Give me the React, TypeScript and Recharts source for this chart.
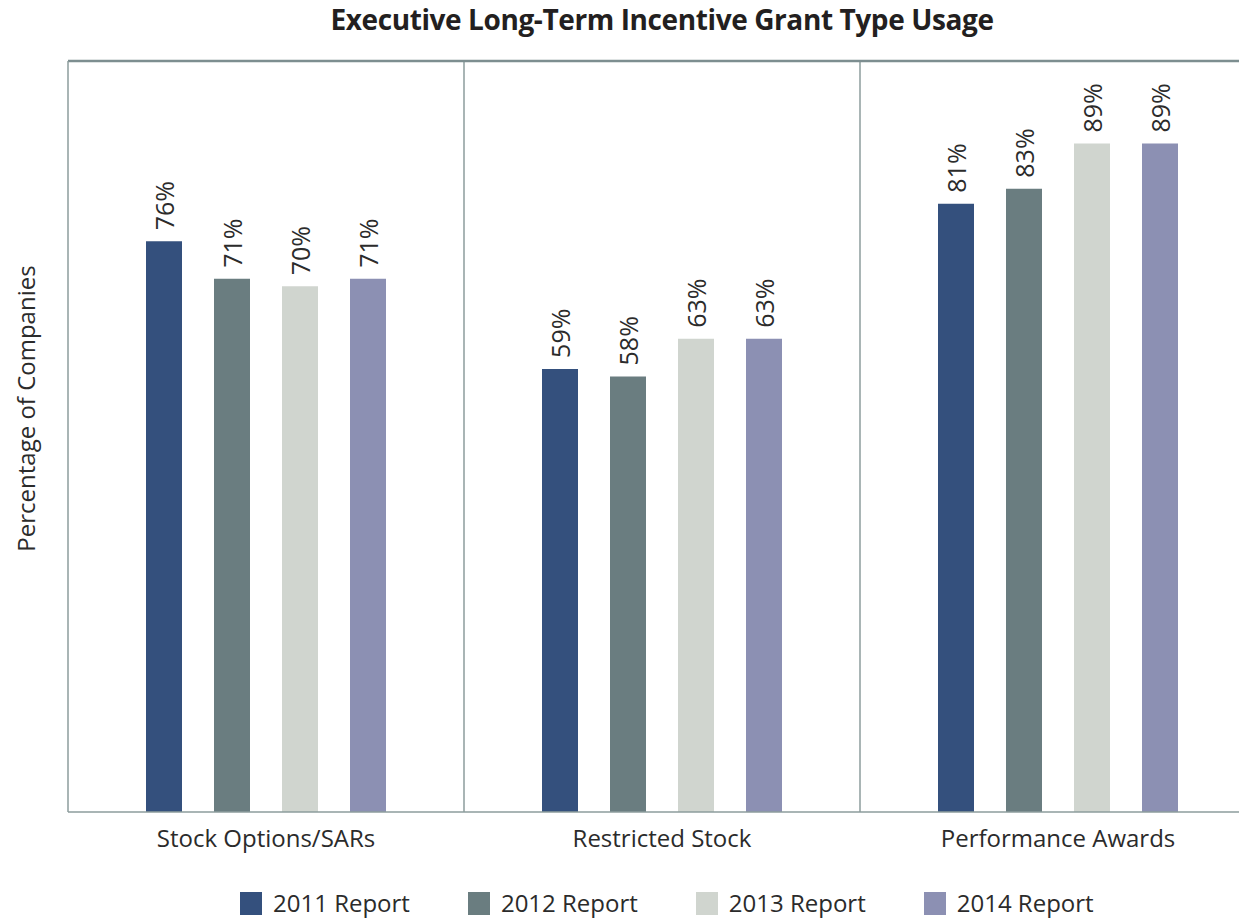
import React from "react";
import { BarChart, Bar, XAxis, YAxis, ReferenceLine, LabelList, Label } from "recharts";

const categories = ["Stock Options/SARs", "Restricted Stock", "Performance Awards"];
const report2011 = [76, 59, 81];
const report2012 = [71, 58, 83];
const report2013 = [70, 63, 89];
const report2014 = [71, 63, 89];

const seriesNames = ["2011 Report", "2012 Report", "2013 Report", "2014 Report"];
const seriesColors = ["#34507d", "#6a7d80", "#d0d5cf", "#8c90b3"];

const data = categories.map((name, i) => ({
  name,
  r2011: report2011[i],
  r2012: report2012[i],
  r2013: report2013[i],
  r2014: report2014[i],
}));
const keys = ["r2011", "r2012", "r2013", "r2014"];

const FONT = "'Open Sans', sans-serif";
const TEXT = "#2b2b2b";
const BORDER = "#8d9c9d";

function BarValue(props: any) {
  const { x, y, width, value } = props;
  const cx = x + width / 2;
  const ty = y - 11;
  return (
    <text
      x={cx}
      y={ty}
      transform={`rotate(-90, ${cx}, ${ty})`}
      textAnchor="start"
      dominantBaseline="central"
      fontSize={25}
      fontFamily={FONT}
      fill={TEXT}
    >
      {value}%
    </text>
  );
}

function CategoryTick(props: any) {
  const { x, y, payload } = props;
  return (
    <text x={x} y={y} dy={35} textAnchor="middle" fontSize={24} fontFamily={FONT} fill={TEXT}>
      {payload.value}
    </text>
  );
}

function YTitle(props: any) {
  const { viewBox } = props;
  const cx = 25;
  const cy = viewBox.y + viewBox.height / 2 - 28;
  return (
    <text
      x={cx}
      y={cy}
      transform={`rotate(-90, ${cx}, ${cy})`}
      textAnchor="middle"
      dominantBaseline="central"
      fontSize={24}
      fontFamily={FONT}
      fill={TEXT}
    >
      Percentage of Companies
    </text>
  );
}

export default function App() {
  return (
    <div style={{ position: "absolute", left: 0, top: 0, width: 1239, height: 918, overflow: "hidden", background: "#fff", fontFamily: FONT }}>
      <div
        style={{
          position: "absolute",
          left: 68,
          width: 1188,
          top: 0,
          textAlign: "center",
          fontSize: 28,
          fontWeight: 700,
          color: "#231f20",
          letterSpacing: -0.4,
        }}
      >
        Executive Long-Term Incentive Grant Type Usage
      </div>
      <BarChart
        width={1260}
        height={918}
        data={data}
        margin={{ top: 61, right: 4, left: 0, bottom: 66 }}
        barSize={36}
        barGap={32}
      >
        <XAxis
          dataKey="name"
          height={40}
          tickSize={0}
          tickMargin={0}
          tickLine={false}
          axisLine={{ stroke: BORDER, strokeWidth: 1.5 }}
          tick={<CategoryTick />}
        />
        <YAxis
          width={68}
          domain={[0, 100]}
          tick={false}
          tickLine={false}
          axisLine={{ stroke: BORDER, strokeWidth: 1.5 }}
        >
          <Label content={<YTitle />} />
        </YAxis>
        <ReferenceLine x={categories[1]} position="start" stroke={BORDER} strokeWidth={1.5} />
        <ReferenceLine x={categories[2]} position="start" stroke={BORDER} strokeWidth={1.5} />
        <ReferenceLine y={100} stroke="#7d8e90" strokeWidth={2.5} />
        {keys.map((k, i) => (
          <Bar key={k} dataKey={k} name={seriesNames[i]} fill={seriesColors[i]} isAnimationActive={false}>
            <LabelList dataKey={k} content={<BarValue />} />
          </Bar>
        ))}
      </BarChart>
      <div
        style={{
          position: "absolute",
          left: 240,
          top: 891,
          display: "flex",
          alignItems: "center",
          gap: 58,
          fontSize: 24,
          lineHeight: "24px",
          color: TEXT,
        }}
      >
        {seriesNames.map((n, i) => (
          <div key={n} style={{ display: "flex", alignItems: "center", gap: 11 }}>
            <span style={{ display: "inline-block", width: 22, height: 23, background: seriesColors[i] }} />
            <span>{n}</span>
          </div>
        ))}
      </div>
    </div>
  );
}
